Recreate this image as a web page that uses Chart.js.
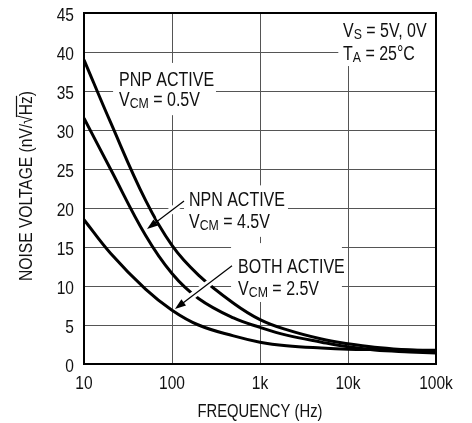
<!DOCTYPE html>
<html>
<head>
<meta charset="utf-8">
<script src="https://cdn.jsdelivr.net/npm/chart.js@4"></script>
<style>
html,body{margin:0;padding:0;background:#fff;}
#wrap{width:472px;height:423px;}
</style>
</head>
<body>
<div id="wrap"><canvas id="c" width="472" height="423"></canvas></div>
<script>
// ---- data ----
const frequencies = [10, 20, 50, 100, 200, 500, 1000, 2000, 5000, 10000, 20000, 50000, 100000];
const pnpActive  = [39, 31, 21, 15.2, 11.4, 7.8, 5.7, 4.4, 3.2, 2.6, 2.15, 1.8, 1.6];
const npnActive  = [31.5, 25, 16.5, 11.6, 8.4, 5.9, 4.7, 3.7, 2.8, 2.2, 1.8, 1.55, 1.4];
const bothActive = [18.5, 14.2, 9.6, 6.9, 5.0, 3.6, 2.8, 2.35, 2.05, 1.9, 1.85, 1.8, 1.75];
const xTickValues = [10, 100, 1000, 10000, 100000];
const xTickLabels = ['10', '100', '1k', '10k', '100k'];
const yTickValues = [0, 5, 10, 15, 20, 25, 30, 35, 40, 45];
const yTickLabels = ['0', '5', '10', '15', '20', '25', '30', '35', '40', '45'];

const FONT = "'Liberation Sans', Arial, sans-serif";
const SQ = 0.82; // horizontal condensing of the typeface

// annotation layout in data units (frequency, volts)
const labelBoxes = [
  {x0: 21.4, x1: 316, y0: 31.9, y1: 38.6, tx: 25, lines: [
    [{t:'PNP ACTIVE'}], [{t:'V'},{t:'CM',sub:true},{t:' = 0.5V'}]], b: [35.6, 33.1]},
  {x0: 137, x1: 2080, y0: 16.3, y1: 22.9, tx: 156, lines: [
    [{t:'NPN ACTIVE'}], [{t:'V'},{t:'CM',sub:true},{t:' = 4.5V'}]], b: [20.26, 17.44]},
  {x0: 469, x1: 8530, y0: 7.95, y1: 15.5, tx: 564, lines: [
    [{t:'BOTH ACTIVE'}], [{t:'V'},{t:'CM',sub:true},{t:' = 2.5V'}]], b: [11.67, 8.85]},
  {x0: 7760, x1: 100000, y0: 38.2, y1: 45, tx: 8770, lines: [
    [{t:'V'},{t:'S',sub:true},{t:' = 5V, 0V'}], [{t:'T'},{t:'A',sub:true},{t:' = 25°C'}]], b: [41.9, 38.97]}
];
const arrows = [
  {from: [137, 20.9], to: [52, 17.3]},
  {from: [481, 12.6], to: [108, 7.05]}
];

function txt(ctx, s, x, y, size, align, sq) {
  sq = sq || SQ;
  ctx.save();
  ctx.font = `${size}px ${FONT}`;
  ctx.textAlign = align || 'left';
  ctx.translate(x, y);
  ctx.scale(sq, 1);
  ctx.fillText(s, 0, 0);
  const w = ctx.measureText(s).width * sq;
  ctx.restore();
  return w;
}
function wid(ctx, s, size, sq) {
  ctx.save(); ctx.font = `${size}px ${FONT}`;
  const w = ctx.measureText(s).width * (sq || SQ); ctx.restore(); return w;
}

const annPlugin = {
  id: 'ann',
  beforeDatasetsDraw(chart) {
    const ctx = chart.ctx, xs = chart.scales.x, ys = chart.scales.y, a = chart.chartArea;
    ctx.save();
    ctx.fillStyle = '#fff';
    labelBoxes.forEach(b => {
      const l = xs.getPixelForValue(b.x0), r = xs.getPixelForValue(b.x1);
      const t = ys.getPixelForValue(b.y1), btm = ys.getPixelForValue(b.y0);
      ctx.fillRect(l, t, r - l, btm - t);
    });
    ctx.strokeStyle = '#000';
    ctx.lineWidth = 2;
    ctx.strokeRect(a.left, a.top, a.right - a.left, a.bottom - a.top);
    ctx.restore();
  },
  afterDatasetsDraw(chart) {
    const ctx = chart.ctx, xs = chart.scales.x, ys = chart.scales.y, a = chart.chartArea;
    ctx.save();
    // arrows
    arrows.forEach(ar => {
      const x1 = xs.getPixelForValue(ar.from[0]), y1 = ys.getPixelForValue(ar.from[1]);
      const x2 = xs.getPixelForValue(ar.to[0]), y2 = ys.getPixelForValue(ar.to[1]);
      const dx = x2 - x1, dy = y2 - y1, len = Math.hypot(dx, dy), ux = dx / len, uy = dy / len;
      ctx.strokeStyle = '#fff'; ctx.lineWidth = 7; ctx.lineCap = 'butt';
      ctx.beginPath(); ctx.moveTo(x1, y1); ctx.lineTo(x2 - ux * 14, y2 - uy * 14); ctx.stroke();
      ctx.strokeStyle = '#000'; ctx.lineWidth = 1.2;
      ctx.beginPath(); ctx.moveTo(x1, y1); ctx.lineTo(x2 - ux * 8, y2 - uy * 8); ctx.stroke();
      const hl = 11, hw = 3.8;
      ctx.fillStyle = '#000';
      ctx.beginPath();
      ctx.moveTo(x2, y2);
      ctx.lineTo(x2 - ux * hl - uy * hw, y2 - uy * hl + ux * hw);
      ctx.lineTo(x2 - ux * hl + uy * hw, y2 - uy * hl - ux * hw);
      ctx.closePath(); ctx.fill();
    });
    ctx.fillStyle = '#111';
    ctx.textBaseline = 'alphabetic';
    // label text
    labelBoxes.forEach(b => {
      b.lines.forEach((segs, i) => {
        let x = xs.getPixelForValue(b.tx);
        const y = ys.getPixelForValue(b.b[i]);
        segs.forEach(s => {
          x += s.sub ? txt(ctx, s.t, x, y + 2, 15, 'left') : txt(ctx, s.t, x, y, 19.5, 'left');
        });
      });
    });
    // tick labels
    xTickValues.forEach((v, i) => txt(ctx, xTickLabels[i], xs.getPixelForValue(v), a.bottom + 25, 18.5, 'center', 0.84));
    yTickValues.forEach((v, i) => txt(ctx, yTickLabels[i], a.left - 10, ys.getPixelForValue(v) + 8, 18.5, 'right', 0.84));
    // x title
    txt(ctx, 'FREQUENCY (Hz)', (a.left + a.right) / 2, 417, 18.5, 'center', 0.8);
    // y title with radical overline
    ctx.translate(32, 186);
    ctx.rotate(-Math.PI / 2);
    const sz = 19;
    const p1 = 'NOISE VOLTAGE (nV/', p2 = '\u221A', p3 = 'Hz', p4 = ')';
    const w1 = wid(ctx, p1, sz), w2 = wid(ctx, p2, sz), w3 = wid(ctx, p3, sz), w4 = wid(ctx, p4, sz);
    let x = -(w1 + w2 + w3 + w4) / 2;
    txt(ctx, p1, x, 0, sz); x += w1;
    const rx = x;
    txt(ctx, p2, x, 0, sz); x += w2;
    txt(ctx, p3, x, 0, sz);
    ctx.strokeStyle = '#111'; ctx.lineWidth = 1.2;
    ctx.beginPath(); ctx.moveTo(rx + w2 * 0.8, -15.5); ctx.lineTo(x + w3 + 0.5, -15.5); ctx.stroke();
    x += w3;
    txt(ctx, p4, x, 0, sz);
    ctx.restore();
  }
};

const mkSet = (vals) => ({
  data: frequencies.map((f, i) => ({x: f, y: vals[i]})),
  borderColor: '#000', borderWidth: 3, pointRadius: 0, fill: false,
  tension: 0.4, borderJoinStyle: 'round'
});

new Chart(document.getElementById('c'), {
  type: 'line',
  data: { datasets: [mkSet(pnpActive), mkSet(npnActive), mkSet(bothActive)] },
  options: {
    responsive: false, animation: false, devicePixelRatio: 1,
    layout: { padding: { top: 13, right: 36, left: 0, bottom: 0 } },
    plugins: { legend: { display: false }, tooltip: { enabled: false } },
    scales: {
      x: {
        type: 'logarithmic', min: 10, max: 100000,
        afterBuildTicks: s => { s.ticks = xTickValues.map(v => ({value: v})); },
        afterFit: s => { s.height = 59; },
        ticks: { display: false, autoSkip: false },
        grid: { color: '#555', lineWidth: 1, drawTicks: false },
        border: { display: false }
      },
      y: {
        type: 'linear', min: 0, max: 45,
        afterBuildTicks: s => { s.ticks = yTickValues.map(v => ({value: v})); },
        afterFit: s => { s.width = 84; },
        ticks: { display: false },
        grid: { color: '#555', lineWidth: 1, drawTicks: false },
        border: { display: false }
      }
    }
  },
  plugins: [annPlugin]
});
</script>
</body>
</html>
